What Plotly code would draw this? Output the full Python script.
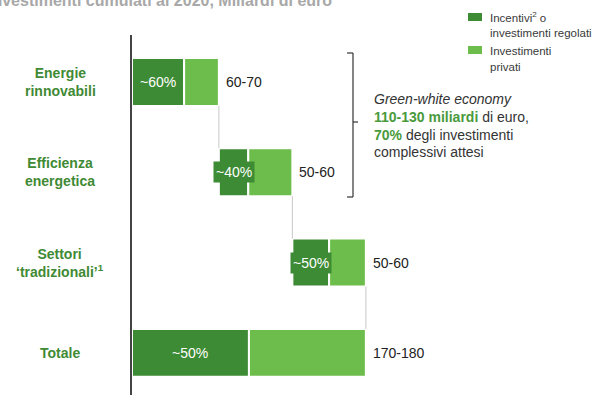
import plotly.graph_objects as go

# --- data -------------------------------------------------------------
categories = ["Energie rinnovabili", "Efficienza energetica", "Settori tradizionali", "Totale"]
category_labels = ["Energie<br>rinnovabili", "Efficienza<br>energetica",
                   "Settori<br>‘tradizionali’<sup>1</sup>", "Totale"]
totals = [65, 55, 55, 175]            # midpoints of the stated ranges, Mld €
range_labels = ["60-70", "50-60", "50-60", "170-180"]
incentive_share = [0.60, 0.40, 0.50, 0.50]
share_labels = ["~60%", "~40%", "~50%", "~50%"]

# --- derived waterfall geometry ----------------------------------------
bases = []
running = 0
for i, t in enumerate(totals):
    if categories[i] == "Totale":
        bases.append(0)
    else:
        bases.append(running)
        running += t
incentives = [t * s for t, s in zip(totals, incentive_share)]
private = [t - d for t, d in zip(totals, incentives)]

DARK = "#3d8b35"
LIGHT = "#6cbd4c"
LABEL_GREEN = "#3f8a34"
TEXT = "#222222"
FONT = "Liberation Sans, Arial, sans-serif"

W, H = 598, 395
L, R, T, B = 132, 25, 35, 0
PW, PH = W - L - R, H - T - B
X_MAX = 330


def px_x(px):
    return (px - L) / PW


def px_y(py):
    return 1 - (py - T) / PH


fig = go.Figure()
fig.add_trace(go.Bar(
    y=categories, x=incentives, base=bases, orientation="h",
    marker=dict(color=DARK, line=dict(color="white", width=2)),
    width=0.53, name="Incentivi o investimenti regolati", hoverinfo="skip",
))
fig.add_trace(go.Bar(
    y=categories, x=private, base=[b + d for b, d in zip(bases, incentives)],
    orientation="h",
    marker=dict(color=LIGHT, line=dict(color="white", width=2)),
    width=0.53, name="Investimenti privati", hoverinfo="skip",
))

annotations = []
shapes = []

for i, cat in enumerate(categories):
    # category name on the left
    annotations.append(dict(
        x=px_x(60), xref="paper", y=cat, yref="y", text=f"<b>{category_labels[i]}</b>",
        showarrow=False, xanchor="center", yanchor="middle",
        font=dict(family=FONT, size=14, color=LABEL_GREEN),
    ))
    # share of incentives, on the dark segment
    annotations.append(dict(
        x=bases[i] + incentives[i] / 2, xref="x", y=cat, yref="y",
        text=share_labels[i], showarrow=False, xanchor="center", yanchor="middle",
        bgcolor=DARK, borderpad=2,
        font=dict(family=FONT, size=14, color="white"),
    ))
    # range label at the bar end
    annotations.append(dict(
        x=bases[i] + totals[i], xref="x", xshift=5, y=cat, yref="y",
        text=range_labels[i], showarrow=False, xanchor="left", yanchor="middle",
        font=dict(family=FONT, size=14, color=TEXT),
    ))
    # thin connector down to the next bar
    if i < len(categories) - 1:
        shapes.append(dict(
            type="line", xref="x", yref="y",
            x0=bases[i] + totals[i], x1=bases[i] + totals[i],
            y0=i + 0.265, y1=i + 1 - 0.265,
            line=dict(color="#c8c8c8", width=1),
        ))

# header (runs off the top-left edge)
annotations.append(dict(
    x=px_x(-14), xref="paper", y=px_y(1), yref="paper",
    text="<b>Investimenti cumulati al 2020, Miliardi di euro</b>",
    showarrow=False, xanchor="left", yanchor="middle",
    font=dict(family=FONT, size=16, color="#a8a8a8"),
))

# legend
legend_font = dict(family=FONT, size=11.5, color="#3a3a3a")
for (y0, y1, col) in [(13, 21, DARK), (46, 54, LIGHT)]:
    shapes.append(dict(type="rect", xref="paper", yref="paper",
                       x0=px_x(468), x1=px_x(482), y0=px_y(y1), y1=px_y(y0),
                       fillcolor=col, line=dict(width=0)))
for text, py in [("Incentivi<sup>2</sup> o", 17), ("investimenti regolati", 33),
                 ("Investimenti", 51), ("privati", 67)]:
    annotations.append(dict(
        x=px_x(488), xref="paper", y=px_y(py), yref="paper", text=text,
        showarrow=False, xanchor="left", yanchor="middle", font=legend_font,
    ))

# bracket around the green-white sectors
bx, btop, bbot, bmid = 353, 53, 197, 122
for x0, y0, x1, y1 in [(bx, btop, bx, bbot), (347, btop, bx, btop),
                       (347, bbot, bx, bbot), (bx, bmid, 358, bmid)]:
    shapes.append(dict(type="line", xref="paper", yref="paper",
                       x0=px_x(x0), x1=px_x(x1), y0=px_y(y0), y1=px_y(y1),
                       line=dict(color="#333333", width=1.2)))

green_span = "<span style='color:#4a9a3c'><b>{}</b></span>"
note_lines = [
    ("<i>Green-white economy</i>", 99),
    (green_span.format("110-130 miliardi") + " di euro,", 117),
    (green_span.format("70%") + " degli investimenti", 134.5),
    ("complessivi attesi", 152),
]
for text, py in note_lines:
    annotations.append(dict(
        x=px_x(372), xref="paper", y=px_y(py), yref="paper", text=text,
        showarrow=False, xanchor="left", yanchor="middle",
        font=dict(family=FONT, size=14, color="#333333"),
    ))

fig.update_layout(
    width=W, height=H,
    margin=dict(l=L, r=R, t=T, b=B),
    paper_bgcolor="white", plot_bgcolor="white",
    barmode="overlay", showlegend=False,
    xaxis=dict(range=[0, X_MAX], visible=False, fixedrange=True),
    yaxis=dict(range=[3.467, -0.52], showticklabels=False, ticks="",
               showgrid=False, zeroline=False, showline=True,
               linecolor="#444444", linewidth=1.5, fixedrange=True),
    annotations=annotations, shapes=shapes,
)

fig.write_html("out.html")
